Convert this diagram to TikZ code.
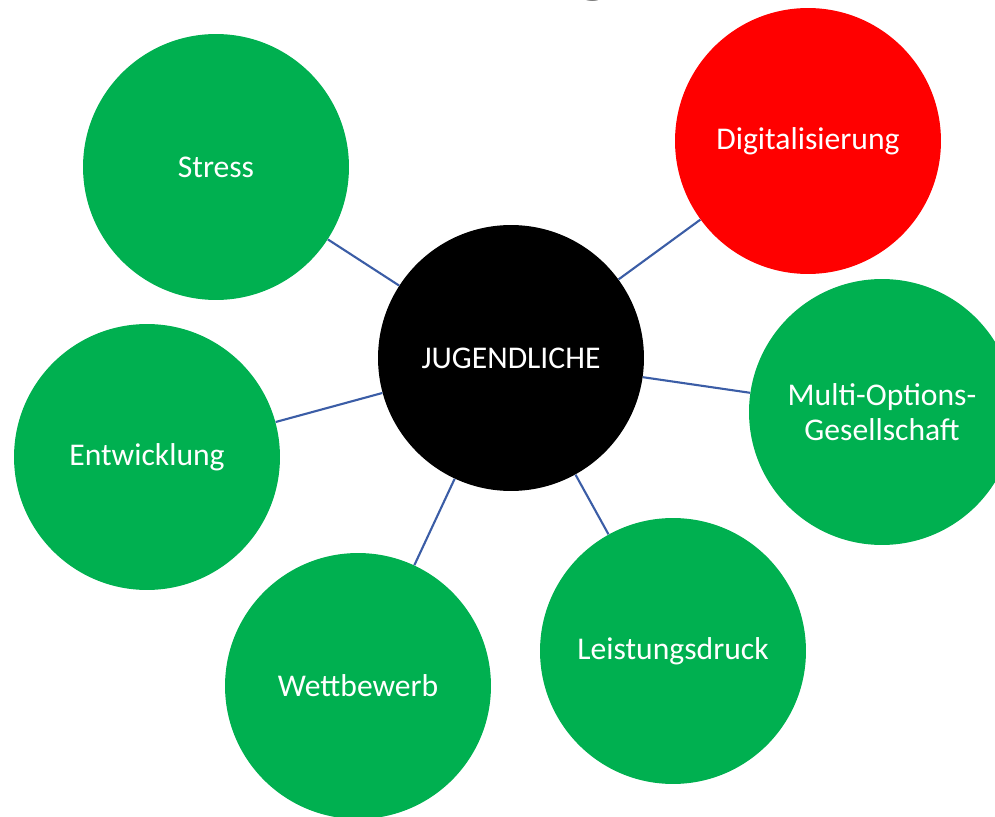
\documentclass[tikz,border=0pt]{standalone}
\usepackage{fontspec}
\setmainfont{Carlito}
\usetikzlibrary{positioning}

\begin{document}
\begin{tikzpicture}[x=0.02cm, y=-0.02cm]

        \def\siz{5.32}              % circle diameter
        \definecolor{bubblegreen}{HTML}{00B050}
        \definecolor{linkblue}{HTML}{3B5DA6}
        \tikzstyle{bubble}=[circle,fill=bubblegreen,text=white,minimum size=\siz cm,inner sep=0pt,align=center]
        \tikzstyle{link}=[draw=linkblue,line width=1.2pt]
        \tikzset{fontscale/.style = {font={\fontsize{#1pt}{20pt}\selectfont}}}

        \useasboundingbox (0,0) rectangle (995,817);

        % Title (cut off at the top)
        \node[anchor=base, font={\fontsize{58pt}{58pt}\selectfont}] (title) at (593,-16) {g};

        % Draw the centre node
        \node[bubble,fill=black,fontscale=18] (Ju) at (511,358) {JUGENDLICHE};

        % Draw the outer nodes
        \node[bubble,fontscale=18] (St) at (216,167) {Stress};
        \node[bubble,fill=red,fontscale=18] (Di) at (808,141) {Digitalisierung};
        \node[bubble,fontscale=18] (Mo) at (882,412) {Multi-Options-\\Gesellschaft};
        \node[bubble,fontscale=18] (En) at (147,457) {Entwicklung};
        \node[bubble,fontscale=18] (We) at (358,686) {Wettbewerb};
        \node[bubble,fontscale=18] (Le) at (673,651) {Leistungsdruck};

        % Connect the nodes
        \foreach \name in {St,Di,Mo,En,We,Le}
                \draw [link] (Ju) -- (\name);

\end{tikzpicture}
\end{document}
